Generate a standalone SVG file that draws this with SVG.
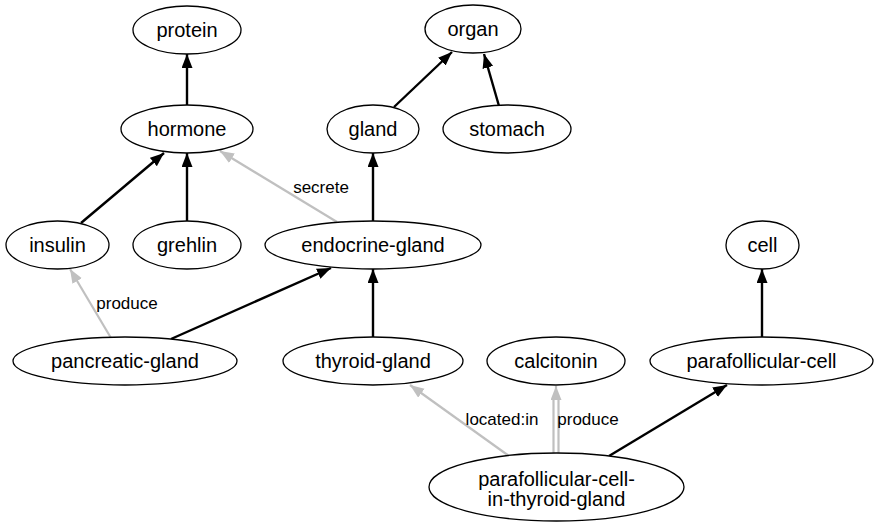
<svg xmlns="http://www.w3.org/2000/svg" width="874" height="523" viewBox="0 0 874 523">
<style>
.n ellipse{fill:#fff;stroke:#000;stroke-width:1.3}
.n text{font-family:"Liberation Sans",Arial,sans-serif;font-size:20px;text-anchor:middle;fill:#000}
.e{stroke:#000;stroke-width:2.4;fill:none}
.g{stroke:#c0c0c0;stroke-width:2.2;fill:none}
.lbl{font-family:"Liberation Sans",Arial,sans-serif;font-size:17px;text-anchor:middle;fill:#000}
</style>
<defs>
<marker id="ab" markerUnits="userSpaceOnUse" markerWidth="15" markerHeight="12" refX="14" refY="5.5" orient="auto"><path d="M0,0 L14,5.5 L0,11 z" fill="#000"/></marker>
<marker id="ag" markerUnits="userSpaceOnUse" markerWidth="15" markerHeight="12" refX="14" refY="5.5" orient="auto"><path d="M0,0 L14,5.5 L0,11 z" fill="#c0c0c0"/></marker>
</defs>
<rect width="874" height="523" fill="#fff"/>
<g id="connectors">
<line class="e" x1="187" y1="105" x2="187" y2="54" marker-end="url(#ab)"/>
<line class="e" x1="394" y1="107" x2="452" y2="52" marker-end="url(#ab)"/>
<line class="e" x1="499" y1="106" x2="484" y2="54" marker-end="url(#ab)"/>
<line class="e" x1="81" y1="223" x2="164" y2="153" marker-end="url(#ab)"/>
<line class="e" x1="187" y1="221" x2="187" y2="153" marker-end="url(#ab)"/>
<line class="g" x1="337" y1="222" x2="220" y2="151" marker-end="url(#ag)"/>
<text class="lbl" x="321" y="193">secrete</text>
<line class="e" x1="373" y1="221" x2="373" y2="153" marker-end="url(#ab)"/>
<line class="g" x1="111" y1="338" x2="70" y2="269" marker-end="url(#ag)"/>
<text class="lbl" x="127" y="309">produce</text>
<line class="e" x1="171" y1="339" x2="331" y2="268" marker-end="url(#ab)"/>
<line class="e" x1="373" y1="337" x2="373" y2="269" marker-end="url(#ab)"/>
<line class="g" x1="509" y1="456" x2="410" y2="385" marker-end="url(#ag)"/>
<text class="lbl" x="502" y="425">located:in</text>
<line class="g" x1="553.5" y1="453" x2="553.5" y2="397"/>
<line class="g" x1="558.5" y1="453" x2="558.5" y2="397"/>
<line class="g" x1="556" y1="400" x2="556" y2="386" stroke-width="0" marker-end="url(#ag)"/>
<text class="lbl" x="588" y="425">produce</text>
<line class="e" x1="609" y1="456" x2="727" y2="385" marker-end="url(#ab)"/>
<line class="e" x1="762" y1="337" x2="762" y2="269" marker-end="url(#ab)"/>
</g>
<g id="protein" class="n"><ellipse cx="187" cy="30" rx="54" ry="24"/><text x="187" y="37">protein</text></g>
<g id="organ" class="n"><ellipse cx="473" cy="29" rx="48" ry="24"/><text x="473" y="36">organ</text></g>
<g id="hormone" class="n"><ellipse cx="187" cy="129" rx="66" ry="24"/><text x="187" y="136">hormone</text></g>
<g id="gland" class="n"><ellipse cx="373" cy="129" rx="46" ry="24"/><text x="373" y="136">gland</text></g>
<g id="stomach" class="n"><ellipse cx="507" cy="129" rx="64" ry="24"/><text x="507" y="136">stomach</text></g>
<g id="insulin" class="n"><ellipse cx="57.5" cy="245" rx="51.5" ry="24"/><text x="57.5" y="252">insulin</text></g>
<g id="grehlin" class="n"><ellipse cx="187" cy="245" rx="54" ry="24"/><text x="187" y="252">grehlin</text></g>
<g id="endocrine-gland" class="n"><ellipse cx="373" cy="245" rx="108" ry="24"/><text x="373" y="252">endocrine-gland</text></g>
<g id="cell" class="n"><ellipse cx="762.5" cy="245" rx="36.5" ry="24"/><text x="762.5" y="252">cell</text></g>
<g id="pancreatic-gland" class="n"><ellipse cx="125" cy="361" rx="112" ry="24"/><text x="125" y="368">pancreatic-gland</text></g>
<g id="thyroid-gland" class="n"><ellipse cx="373" cy="361" rx="90" ry="24"/><text x="373" y="368">thyroid-gland</text></g>
<g id="calcitonin" class="n"><ellipse cx="556" cy="361" rx="69" ry="24"/><text x="556" y="368">calcitonin</text></g>
<g id="parafollicular-cell" class="n"><ellipse cx="761.5" cy="361" rx="111.5" ry="24"/><text x="761.5" y="368">parafollicular-cell</text></g>
<g id="parafollicular-cell-in-thyroid-gland" class="n"><ellipse cx="556.5" cy="487" rx="127.5" ry="34"/><text x="556.5" y="486"><tspan x="556.5">parafollicular-cell-</tspan><tspan x="556.5" dy="20">in-thyroid-gland</tspan></text></g>
</svg>
